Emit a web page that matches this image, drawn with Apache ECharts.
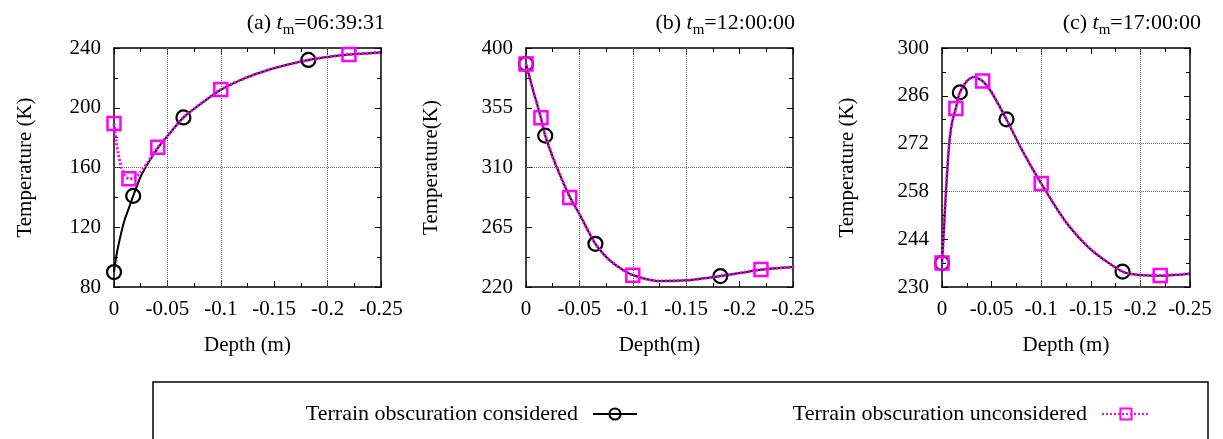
<!DOCTYPE html>
<html><head><meta charset="utf-8">
<script src="https://cdn.jsdelivr.net/npm/echarts@6/dist/echarts.min.js"></script>
<style>html,body{margin:0;padding:0;background:#fff}#c{width:1223px;height:439px}</style>
</head><body><div id="c"></div>
<script>
// ---------- data ----------
const depths = [0, -0.002, -0.004, -0.007, -0.01, -0.014, -0.018, -0.025, -0.032, -0.041, -0.05, -0.065, -0.08, -0.1, -0.125, -0.15, -0.182, -0.2, -0.22, -0.25];
const markerDepthsConsidered = [0, -0.018, -0.065, -0.182];
const markerDepthsUnconsidered = [0, -0.014, -0.041, -0.1, -0.22];

const tempA_considered   = [90, 100, 107.5, 117, 125, 133, 141, 154, 163, 173, 181, 193.5, 202, 212, 220.5, 226.5, 232, 234, 235.6, 237];
const tempA_unconsidered = [189.5, 178, 169, 160, 155, 152.5, 152.5, 157, 164, 173.5, 181, 193.5, 202, 212.2, 220.5, 226.5, 232, 234, 235.7, 237];
const tempB_considered   = [388, 382, 376, 367, 359, 347, 334, 318, 304, 288, 275, 252.5, 239, 229, 224.5, 225, 228.2, 230.5, 233, 235];
const tempB_unconsidered = [388, 382, 376, 367, 359, 347.5, 334.5, 318, 304, 287.5, 275, 252.5, 239, 228.8, 224.5, 225, 228.2, 230.5, 233.1, 235];
const tempC_considered   = [237, 247, 258, 271, 278, 282.5, 287, 290.3, 291.5, 290.3, 287, 279.1, 270.5, 260.3, 249, 241, 234.5, 233.5, 233.3, 233.9];
const tempC_unconsidered = [237, 247, 258, 271, 278, 282.3, 286.8, 290.3, 291.5, 290.3, 287, 279.1, 270.5, 260.3, 249, 241, 234.5, 233.5, 233.4, 233.9];

const panelLetters = ['(a)', '(b)', '(c)'];
const panelTimes = ['06:39:31', '12:00:00', '17:00:00'];
const yMins = [80, 220, 230];
const yMaxs = [240, 400, 300];
const ySteps = [40, 45, 14];
const xTickValues = [0, -0.05, -0.1, -0.15, -0.2, -0.25];
const xTickLabels = ['0', '-0.05', '-0.1', '-0.15', '-0.2', '-0.25'];
const yNames = ['Temperature (K)', 'Temperature(K)', 'Temperature (K)'];
const xNames = ['Depth (m)', 'Depth(m)', 'Depth (m)'];
const hGridValues = [[160], [310], [272, 258]];
const vGridValues = [[-0.05, -0.1, -0.2], [-0.05, -0.1, -0.15], [-0.1, -0.2]];
const seriesNames = ['Terrain obscuration considered', 'Terrain obscuration unconsidered'];

const temps = [
  [tempA_considered, tempA_unconsidered],
  [tempB_considered, tempB_unconsidered],
  [tempC_considered, tempC_unconsidered]
];

// ---------- layout ----------
const FONT = 'Liberation Serif';
const gridBoxes = [
  {left: 114, top: 48, width: 267, height: 239},
  {left: 526, top: 48, width: 267, height: 239},
  {left: 942, top: 48, width: 248, height: 239}
];
const titleRights = [1223 - 390, 1223 - 800, 1223 - 1206];
const yNameGaps = [78, 84, 84];

const grid = [], xAxis = [], yAxis = [], series = [], title = [];

function xLabel(v) {
  for (let k = 0; k < xTickValues.length; k++) {
    if (Math.abs(v - xTickValues[k]) < 1e-9) return xTickLabels[k];
  }
  return '';
}

for (let i = 0; i < 3; i++) {
  const base = yMins[i];
  grid.push(Object.assign({containLabel: false}, gridBoxes[i]));
  const axLine = {show: true, onZero: false, lineStyle: {color: '#000', width: 1.5}};
  const tick = {show: true, inside: true, length: 6, lineStyle: {color: '#000', width: 1}};
  const minor = {show: true, splitNumber: 2, length: 4, lineStyle: {color: '#000', width: 1}};
  xAxis.push({
    type: 'value', gridIndex: i, min: -0.25, max: 0, interval: 0.05, inverse: true, position: 'bottom',
    axisLine: axLine, axisTick: tick, minorTick: minor, splitLine: {show: false},
    axisLabel: {color: '#000', fontFamily: FONT, fontSize: 21, margin: 12, formatter: xLabel},
    name: xNames[i], nameLocation: 'middle', nameGap: 48,
    nameTextStyle: {color: '#000', fontFamily: FONT, fontSize: 21}
  });
  xAxis.push({
    type: 'value', gridIndex: i, min: -0.25, max: 0, interval: 0.05, inverse: true, position: 'top',
    axisLine: axLine, axisTick: tick, minorTick: minor, splitLine: {show: false},
    axisLabel: {show: false}
  });
  yAxis.push({
    type: 'value', gridIndex: i, min: 0, max: yMaxs[i] - base, interval: ySteps[i], position: 'left',
    axisLine: axLine, axisTick: tick, minorTick: minor, splitLine: {show: false},
    axisLabel: {color: '#000', fontFamily: FONT, fontSize: 21, margin: 13, formatter: v => String(v + base)},
    name: yNames[i], nameLocation: 'middle', nameGap: yNameGaps[i], nameRotate: 90,
    nameTextStyle: {color: '#000', fontFamily: FONT, fontSize: 21}
  });
  yAxis.push({
    type: 'value', gridIndex: i, min: 0, max: yMaxs[i] - base, interval: ySteps[i], position: 'right',
    axisLine: axLine, axisTick: tick, minorTick: minor, splitLine: {show: false},
    axisLabel: {show: false}
  });

  const mk = (T, markers, sym) => depths.map((d, k) => ({
    value: [d, T[k] - base],
    symbol: markers.some(m => Math.abs(m - d) < 1e-9) ? sym : 'none'
  }));

  series.push({
    name: seriesNames[0], type: 'line', xAxisIndex: 2 * i, yAxisIndex: 2 * i,
    data: mk(temps[i][0], markerDepthsConsidered, 'circle'),
    symbol: 'circle', symbolSize: 14, showSymbol: true, showAllSymbol: true,
    smooth: 0.25,
    lineStyle: {color: '#000', width: 2},
    itemStyle: {color: 'rgba(255,255,255,0)', borderColor: '#000', borderWidth: 2.2},
    z: 3,
    markLine: {
      silent: true, symbol: ['none', 'none'], label: {show: false}, animation: false,
      lineStyle: {type: 'dotted', color: '#666', width: 1},
      data: vGridValues[i].map(v => ({xAxis: v})).concat(hGridValues[i].map(v => ({yAxis: v - base})))
    }
  });
  series.push({
    name: seriesNames[1], type: 'line', xAxisIndex: 2 * i, yAxisIndex: 2 * i,
    data: mk(temps[i][1], markerDepthsUnconsidered, 'rect'),
    symbol: 'rect', symbolSize: 13, showSymbol: true, showAllSymbol: true,
    smooth: 0.25,
    lineStyle: {color: '#ff00ff', width: 3, type: [2, 2]},
    itemStyle: {color: 'rgba(255,255,255,0)', borderColor: '#ff00ff', borderWidth: 2.5},
    z: 4
  });

  title.push({
    text: panelLetters[i] + ' {it|t}{sub|m}=' + panelTimes[i],
    right: titleRights[i], top: 3,
    textStyle: {
      color: '#000', fontFamily: FONT, fontSize: 22, fontWeight: 'normal', lineHeight: 30,
      rich: {
        it: {fontFamily: FONT, fontSize: 22, fontStyle: 'italic', color: '#000', lineHeight: 30},
        sub: {fontFamily: FONT, fontSize: 15, color: '#000', verticalAlign: 'bottom', lineHeight: 15}
      }
    }
  });
}

const legendText = {color: '#000', fontFamily: FONT, fontSize: 22, padding: [0, 10, 0, 0]};
const option = {
  animation: false,
  backgroundColor: '#fff',
  title: title,
  grid: grid, xAxis: xAxis, yAxis: yAxis, series: series,
  legend: [
    {data: [seriesNames[0]], right: 1223 - 638, top: 403, padding: 0, align: 'right', itemWidth: 44, itemHeight: 14, textStyle: legendText, selectedMode: false},
    {data: [seriesNames[1]], right: 1223 - 1151, top: 403, padding: 0, align: 'right', itemWidth: 48, itemHeight: 14, textStyle: legendText, selectedMode: false}
  ],
  graphic: [{
    type: 'rect', shape: {x: 153, y: 382, width: 1055, height: 80},
    style: {fill: 'none', stroke: '#000', lineWidth: 1.5}, silent: true
  }]
};
echarts.init(document.getElementById('c'), null, {renderer: 'canvas'}).setOption(option);
</script>
</body></html>
